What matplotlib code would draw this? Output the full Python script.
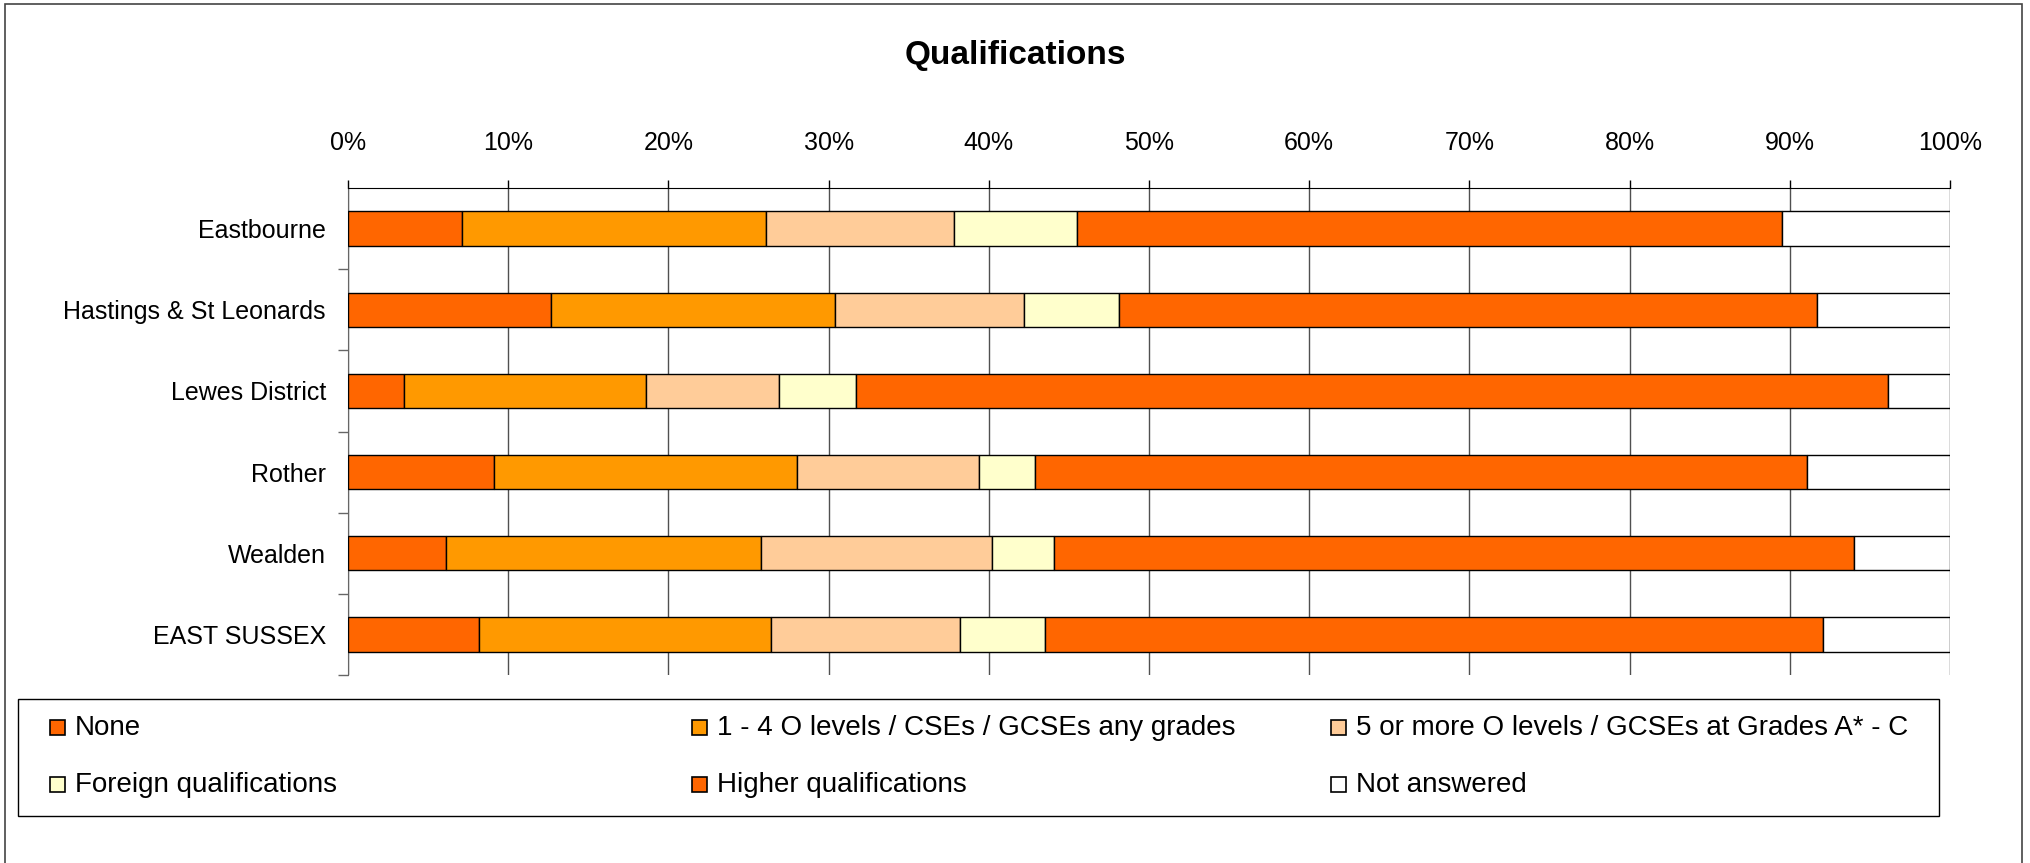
import numpy as np
import matplotlib
matplotlib.use('Agg')
import matplotlib.pyplot as plt
from matplotlib.patches import Rectangle
from matplotlib.ticker import FixedLocator, FuncFormatter

plt.rcParams['font.family'] = ['Liberation Sans', 'DejaVu Sans']

# data (percent of respondents)
categories = ['Eastbourne', 'Hastings & St Leonards', 'Lewes District',
              'Rother', 'Wealden', 'EAST SUSSEX']
none = [7.1, 12.7, 3.5, 9.1, 6.1, 8.2]
gcse_any = [19.0, 17.7, 15.1, 18.9, 19.7, 18.2]
gcse_ac = [11.7, 11.8, 8.3, 11.4, 14.4, 11.8]
foreign = [7.7, 5.9, 4.8, 3.5, 3.9, 5.3]
higher = [44.0, 43.6, 64.4, 48.2, 49.9, 48.6]
not_answered = [10.5, 8.3, 3.9, 8.9, 6.0, 7.9]

series_names = ['None', '1 - 4 O levels / CSEs / GCSEs any grades',
                '5 or more O levels / GCSEs at Grades A* - C',
                'Foreign qualifications', 'Higher qualifications', 'Not answered']
series = [none, gcse_any, gcse_ac, foreign, higher, not_answered]
colors = ['#FF6600', '#FF9900', '#FFCC99', '#FFFFCC', '#FF6600', '#FFFFFF']

W, H = 2031, 863
fig = plt.figure(figsize=(W / 100, H / 100), dpi=100)

def fx(px):
    return px / W

def fy(py):
    return 1 - py / H

# outer chart border (bottom edge runs off the image, as in the reference)
fig.patches.append(Rectangle((fx(5), fy(870)), fx(2022) - fx(5), fy(4) - fy(870),
                             transform=fig.transFigure, fill=False,
                             edgecolor='#444444', linewidth=1.2, clip_on=False))

ax = fig.add_axes([fx(348), fy(675), fx(1950) - fx(348), fy(188) - fy(675)])

y = np.arange(len(categories))
left = np.zeros(len(categories))
for vals, col in zip(series, colors):
    ax.barh(y, vals, left=left, height=0.425, color=col,
            edgecolor='black', linewidth=1.0, zorder=3)
    left += np.array(vals)

ax.set_xlim(0, 100)
ax.set_ylim(len(categories) - 0.5, -0.5)

ax.xaxis.tick_top()
ax.set_xticks(np.arange(0, 101, 10))
ax.xaxis.set_major_formatter(FuncFormatter(lambda v, p: '%d%%' % v))
ax.tick_params(axis='x', direction='out', length=6, width=1, pad=18,
               labelsize=18, colors='black')
ax.grid(axis='x', color='#505050', linewidth=1.0, zorder=0)

ax.set_yticks(y)
ax.set_yticklabels(categories)
ax.tick_params(axis='y', which='major', length=0, pad=16, labelsize=18)
ax.yaxis.set_minor_locator(FixedLocator(np.arange(1, len(categories) + 1) - 0.5))
ax.tick_params(axis='y', which='minor', direction='out', length=7,
               width=1, color='#666666')

for s in ['right', 'bottom']:
    ax.spines[s].set_visible(False)
ax.spines['top'].set_color('black')
ax.spines['left'].set_color('#666666')

fig.text(fx(1015), fy(64), 'Qualifications', ha='center', va='baseline',
         fontsize=24, fontweight='bold')

# legend drawn Excel-style with equal-width columns
fig.patches.append(Rectangle((fx(18), fy(816)), fx(1939) - fx(18), fy(699) - fy(816),
                             transform=fig.transFigure, fill=False,
                             edgecolor='black', linewidth=1.0))
col_x = [50, 692, 1331]
row_base = [735, 792]
for i, (name, col) in enumerate(zip(series_names, colors)):
    cx = col_x[i % 3]
    by = row_base[i // 3]
    fig.patches.append(Rectangle((fx(cx), fy(by)), fx(15), fy(0) - fy(15),
                                 transform=fig.transFigure, facecolor=col,
                                 edgecolor='black', linewidth=1.2))
    fig.text(fx(cx + 25), fy(by), name, ha='left', va='baseline', fontsize=20)

fig.savefig('out.png', dpi=100)
